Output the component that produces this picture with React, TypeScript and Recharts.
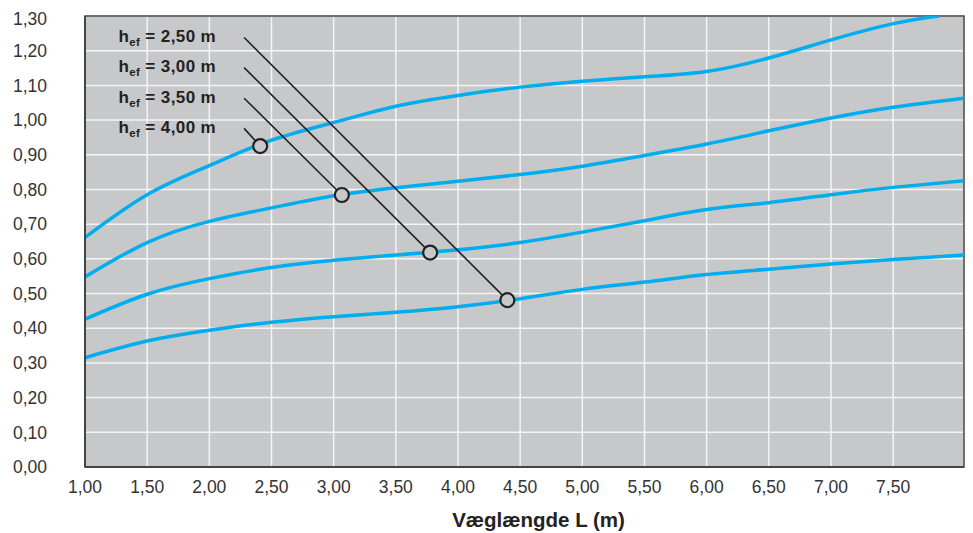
import React from 'react';
import { LineChart, Line, XAxis, YAxis, CartesianGrid, ReferenceLine, ReferenceDot, ReferenceArea } from 'recharts';

// wall length L (m) where the curves were read
const lengths = [1, 1.5, 2, 2.5, 3, 3.5, 4, 4.5, 5, 5.5, 6, 6.5, 7, 7.5, 8.07];
const lengthsTop = [1, 1.5, 2, 2.5, 3, 3.5, 4, 4.5, 5, 5.5, 6, 6.5, 7, 7.5, 7.87];

const hef400 = [0.662, 0.785, 0.869, 0.942, 0.993, 1.04, 1.071, 1.095, 1.112, 1.125, 1.14, 1.179, 1.231, 1.278, 1.3];
const hef350 = [0.548, 0.647, 0.708, 0.747, 0.782, 0.805, 0.824, 0.843, 0.867, 0.898, 0.931, 0.969, 1.006, 1.037, 1.063];
const hef300 = [0.426, 0.498, 0.543, 0.575, 0.596, 0.611, 0.626, 0.647, 0.677, 0.71, 0.742, 0.762, 0.785, 0.806, 0.825];
const hef250 = [0.315, 0.363, 0.394, 0.417, 0.433, 0.446, 0.462, 0.485, 0.512, 0.533, 0.555, 0.57, 0.585, 0.598, 0.611];

const xTicks = [1, 1.5, 2, 2.5, 3, 3.5, 4, 4.5, 5, 5.5, 6, 6.5, 7, 7.5];
const yTicks = [0, 0.1, 0.2, 0.3, 0.4, 0.5, 0.6, 0.7, 0.8, 0.9, 1.0, 1.1, 1.2, 1.3];

// leader lines: label -> circle on the matching curve
const hefLabels = ['2,50', '3,00', '3,50', '4,00'];
const leaderStartX = 2.28;
const leaderStartY = [1.238, 1.151, 1.063, 0.976];
const markerX = [4.397, 3.776, 3.066, 2.409];
const markerY = [0.481, 0.618, 0.784, 0.925];

const FONT = '"Liberation Sans", Arial, Helvetica, sans-serif';
const BG = '#c7c8ca';
const BLUE = '#00aeef';

const toSeries = (xs: number[], ys: number[]) => xs.map((x, i) => ({ x, y: ys[i] }));
const fmt = (v: number) => v.toFixed(2).replace('.', ',');

function HefLabel(props: any) {
  const { viewBox, hef } = props;
  if (!viewBox) return null;
  return (
    <text
      x={viewBox.x - 28}
      y={viewBox.y + 4.5}
      textAnchor="end"
      fontFamily={FONT}
      fontSize={17}
      fontWeight="bold"
      letterSpacing={0.4}
      fill="#222"
    >
      h
      <tspan fontSize={11.5} dy={4}>ef</tspan>
      <tspan dy={-4}>{` = ${hef} m`}</tspan>
    </text>
  );
}

export default function App() {
  const series = [
    { name: 'hef 4,00', data: toSeries(lengthsTop, hef400) },
    { name: 'hef 3,50', data: toSeries(lengths, hef350) },
    { name: 'hef 3,00', data: toSeries(lengths, hef300) },
    { name: 'hef 2,50', data: toSeries(lengths, hef250) },
  ];

  return (
    <div style={{ width: 965, height: 525 }}>
      <LineChart width={965} height={525} margin={{ top: 8, right: 9, left: 0, bottom: 0 }}>
        <CartesianGrid stroke="#f4f4f4" strokeWidth={1.5} fill={BG} fillOpacity={1} />
        <XAxis
          dataKey="x"
          type="number"
          domain={[1, 8.07]}
          ticks={xTicks}
          allowDataOverflow
          tickFormatter={fmt}
          height={66}
          tickLine={false}
          tickSize={0}
          tickMargin={14}
          axisLine={{ stroke: '#444', strokeWidth: 2 }}
          tick={{ fill: '#333', fontSize: 17.5, fontFamily: FONT }}
          label={{
            value: 'Væglængde L (m)',
            position: 'insideBottom',
            offset: 6,
            dx: 14,
            fill: '#222',
            fontSize: 20.5,
            fontWeight: 'bold',
            fontFamily: FONT,
          }}
        />
        <YAxis
          type="number"
          domain={[0, 1.3]}
          ticks={yTicks}
          allowDataOverflow
          tickFormatter={fmt}
          width={77}
          tickLine={false}
          tickSize={0}
          tickMargin={38}
          axisLine={{ stroke: '#444', strokeWidth: 2 }}
          tick={{ fill: '#333', fontSize: 17.5, fontFamily: FONT }}
        />
        <ReferenceArea x1={1} x2={8.07} y1={0} y2={1.3} fill="none" stroke="#444" strokeWidth={1.5} />
        {series.map((s) => (
          <Line
            key={s.name}
            data={s.data}
            dataKey="y"
            name={s.name}
            type="natural"
            stroke={BLUE}
            strokeWidth={3.5}
            dot={false}
            isAnimationActive={false}
          />
        ))}
        {hefLabels.map((h, i) => (
          <ReferenceLine
            key={'l' + h}
            segment={[
              { x: leaderStartX, y: leaderStartY[i] },
              { x: markerX[i], y: markerY[i] },
            ]}
            stroke="#222"
            strokeWidth={1.6}
            label={<HefLabel hef={h} />}
          />
        ))}
        {hefLabels.map((h, i) => (
          <ReferenceDot
            key={'d' + h}
            x={markerX[i]}
            y={markerY[i]}
            r={7}
            fill={BG}
            stroke="#222"
            strokeWidth={2.2}
          />
        ))}
      </LineChart>
    </div>
  );
}
